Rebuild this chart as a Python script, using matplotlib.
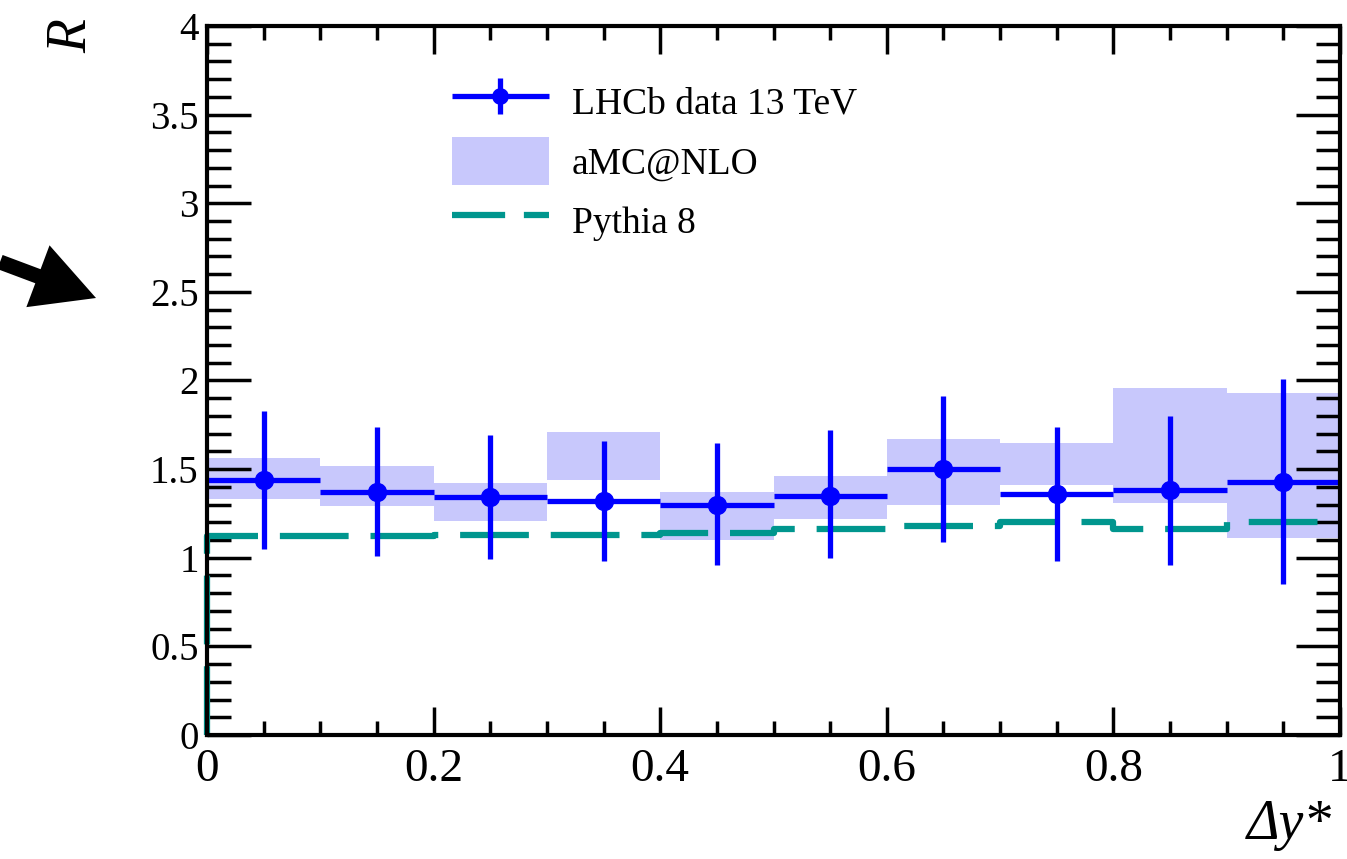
import matplotlib
matplotlib.use("Agg")
from matplotlib import pyplot as plt
from matplotlib.patches import Patch, FancyArrowPatch
from matplotlib.lines import Line2D
from matplotlib.legend_handler import HandlerErrorbar
from matplotlib.ticker import MultipleLocator

# bin edges and centres in delta y*
edges = [0.0, 0.1, 0.2, 0.3, 0.4, 0.5, 0.6, 0.7, 0.8, 0.9, 1.0]
centres = [0.05, 0.15, 0.25, 0.35, 0.45, 0.55, 0.65, 0.75, 0.85, 0.95]

# LHCb data 13 TeV
data_r = [1.44, 1.37, 1.34, 1.32, 1.30, 1.35, 1.50, 1.36, 1.38, 1.43]
data_up = [1.83, 1.74, 1.69, 1.66, 1.65, 1.72, 1.91, 1.74, 1.80, 2.01]
data_lo = [1.05, 1.01, 0.99, 0.98, 0.96, 1.00, 1.09, 0.98, 0.96, 0.85]

# aMC@NLO band
amc_lo = [1.33, 1.29, 1.21, 1.44, 1.10, 1.22, 1.30, 1.41, 1.31, 1.11]
amc_hi = [1.56, 1.52, 1.42, 1.71, 1.37, 1.46, 1.67, 1.65, 1.96, 1.93]

# Pythia 8
pythia = [1.12, 1.12, 1.13, 1.13, 1.14, 1.16, 1.18, 1.20, 1.16, 1.20]

blue = "#0000ff"
band = "#c8c8fc"
teal = "#00968e"

plt.rcParams["font.family"] = ["Liberation Serif", "DejaVu Serif"]

fig = plt.figure(figsize=(13.47, 8.59), dpi=100)
ax = fig.add_axes([0.1537, 0.1444, 0.8411, 0.8253])

widths = [edges[i + 1] - edges[i] for i in range(len(centres))]
heights = [h - l for h, l in zip(amc_hi, amc_lo)]
ax.bar(edges[:-1], heights, width=widths, bottom=amc_lo, align="edge",
       color=band, linewidth=0, zorder=1)

# histogram outline rising from zero at the left edge only
step_x = [edges[0]] + edges
step_y = [0] + pythia + [pythia[-1]]
ax.step(step_x, step_y, where="post", color=teal, linewidth=4.5,
        linestyle=(0, (11, 3.5)), zorder=2, clip_on=False)

yerr = [[r - l for r, l in zip(data_r, data_lo)],
        [u - r for u, r in zip(data_up, data_r)]]
xerr = [w / 2 for w in widths]
data_eb = ax.errorbar(centres, data_r, xerr=xerr, yerr=yerr, fmt="o", color=blue,
                      markersize=13, elinewidth=3.8, capsize=0, zorder=3)

ax.set_xlim(0, 1)
ax.set_ylim(0, 4)
ax.xaxis.set_major_locator(MultipleLocator(0.2))
ax.xaxis.set_minor_locator(MultipleLocator(0.05))
ax.yaxis.set_major_locator(MultipleLocator(0.5))
ax.yaxis.set_minor_locator(MultipleLocator(0.1))
ax.xaxis.set_major_formatter(plt.FuncFormatter(lambda v, p: f"{v:g}"))
ax.yaxis.set_major_formatter(plt.FuncFormatter(lambda v, p: f"{v:g}"))

ax.tick_params(which="both", direction="in", top=True, right=True, width=2.5)
ax.tick_params(axis="x", which="major", length=20, labelsize=34, pad=10)
ax.tick_params(axis="x", which="minor", length=10)
ax.tick_params(axis="y", which="major", length=32, labelsize=28, pad=6)
ax.tick_params(axis="y", which="minor", length=17)
for s in ax.spines.values():
    s.set_linewidth(3)
    s.set_zorder(4)

fig.text(0.054, 0.958, "R", rotation=90, fontsize=40, style="italic",
         ha="center", va="center")
fig.text(0.957, 0.040, "\u0394y*", fontsize=40, style="italic",
         ha="center", va="center")

handles = [
    data_eb,
    Patch(facecolor=band, edgecolor="none"),
    Line2D([], [], color=teal, linewidth=4.5, linestyle=(0, (8.5, 3))),
]
labels = ["LHCb data 13 TeV", "aMC@NLO", "Pythia 8"]
ax.legend(handles, labels, loc="upper left", bbox_to_anchor=(0.186, 0.975),
          frameon=False, fontsize=27, handlelength=2.6, handleheight=1.6,
          handletextpad=0.6, labelspacing=0.3, markerscale=0.85,
          handler_map={data_eb: HandlerErrorbar(xerr_size=1.3, yerr_size=0.48)})

# arrow at the left edge
fig.add_artist(FancyArrowPatch(
    (0.0, 1 - 262 / 859), (96 / 1347, 1 - 298 / 859),
    transform=fig.transFigure,
    arrowstyle="simple,head_length=0.62,head_width=0.66,tail_width=0.15",
    mutation_scale=72, shrinkA=0, shrinkB=0, linewidth=0, color="black"))

fig.savefig("out.png", dpi=100)
